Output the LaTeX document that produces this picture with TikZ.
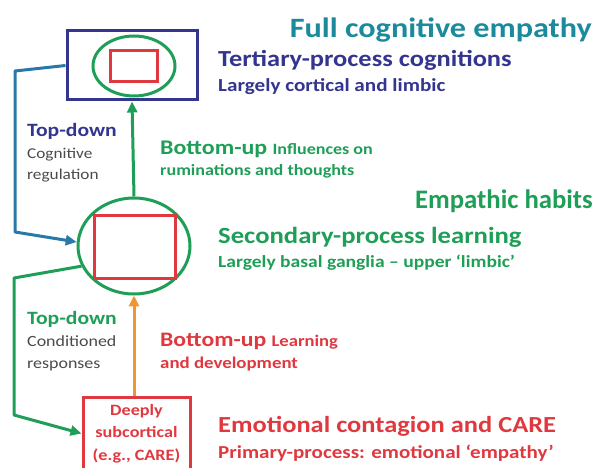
\documentclass[tikz,border=0pt]{standalone}
\usepackage{fontspec}
\setmainfont{Carlito}[FakeStretch=1.15]
\newfontfamily\plaincarlito{Carlito}
\usetikzlibrary{shapes.geometric,arrows.meta}
\definecolor{cnavy}{HTML}{33358F}
\definecolor{cteal}{HTML}{1B8A9C}
\definecolor{cgreen}{HTML}{1E9E56}
\definecolor{cred}{HTML}{E0383F}
\definecolor{corange}{HTML}{F0952F}
\definecolor{cblue}{HTML}{2878A8}
\definecolor{cgray}{HTML}{4A4A4A}
\newcommand{\fsz}[1]{\fontsize{#1}{#1}\selectfont}
\tikzset{
  lbl/.style={inner sep=0pt, anchor=base west, font=\bfseries},
  shp/.style={line width=3pt, inner sep=0pt},
  conn/.style={line width=3pt, line join=round, -{Triangle[length=11pt,width=10pt]}},
}
\begin{document}
\begin{tikzpicture}[x=1pt,y=-1pt]
\useasboundingbox (0,0) rectangle (598,468);
\clip (0,0) rectangle (598,468);
% shapes
\node[shp, draw=cnavy, minimum width=130pt, minimum height=69pt] (topbox) at (132,65.5) {};
\node[shp, draw=cgreen, ellipse, minimum width=82pt, minimum height=60pt] (topell) at (134,66) {};
\node[shp, draw=cred, minimum width=47pt, minimum height=31pt] (topred) at (133.5,66.5) {};
\node[shp, draw=cgreen, ellipse, minimum width=112pt, minimum height=96pt] (midell) at (134,246) {};
\node[shp, draw=cred, minimum width=81pt, minimum height=63pt] (midred) at (134.5,247.5) {};
\node[shp, draw=cred, minimum width=107pt, minimum height=73pt, align=center, text=cred, font=\bfseries\fontsize{15.8}{22.5}\selectfont] (botbox) at (136.5,433.5) {Deeply\\subcortical\\(e.g., CARE)};
% connectors
\draw[conn, cgreen] (midell.north) -- (topbox.south);
\draw[conn, corange] (midell.south |- botbox.north) -- (midell.south);
\draw[conn, cblue] (topbox.west) -- (15,71) -- (15,232) -- (midell.176);
\draw[conn, cgreen] (midell.201) -- (14,278) -- (14,415) -- (botbox.west);
% texts
\node[lbl, anchor=base east, text=cteal, font=\bfseries\fsz{28}] (t1) at (592,38) {Full cognitive empathy};
\node[lbl, text=cnavy, font=\bfseries\fsz{23}] (t2) at (218,67) {Tertiary-process cognitions};
\node[lbl, text=cnavy, font=\bfseries\fsz{18.4}] (t3) at (218,92) {Largely cortical and limbic};
\node[lbl, text=cnavy, font=\bfseries\fsz{18.8}] (t4) at (27,137) {Top-down};
\node[lbl, text=cgray, font=\fsz{15}] (t5) at (27,159) {Cognitive};
\node[lbl, text=cgray, font=\fsz{15}] (t6) at (27,180) {regulation};
\node[lbl, text=cgreen, font=\bfseries\fsz{20.8}] (t7) at (160,155) {Bottom-up {\fsz{15.7}Influences on}};
\node[lbl, text=cgreen, font=\bfseries\fsz{15.7}] (t8) at (160,176) {ruminations and thoughts};
\node[lbl, anchor=base east, text=cgreen, font=\plaincarlito\bfseries\fsz{26.7}] (t9) at (593,209) {Empathic habits};
\node[lbl, text=cgreen, font=\bfseries\fsz{23.2}] (t10) at (218,244) {Secondary-process learning};
\node[lbl, text=cgreen, font=\bfseries\fsz{17}] (t11) at (218,268) {Largely basal ganglia – upper ‘limbic’};
\node[lbl, text=cgreen, font=\bfseries\fsz{18.8}] (t12) at (27,324) {Top-down};
\node[lbl, text=cgray, font=\fsz{15.6}] (t13) at (27,346) {Conditioned};
\node[lbl, text=cgray, font=\fsz{15.6}] (t14) at (27,368) {responses};
\node[lbl, text=cred, font=\bfseries\fsz{20.6}] (t15) at (160,346) {Bottom-up {\fsz{16.2}Learning}};
\node[lbl, text=cred, font=\bfseries\fsz{16.4}] (t16) at (160,368) {and development};
\node[lbl, text=cred, font=\bfseries\fsz{23}] (t17) at (218,432) {Emotional contagion and CARE};
\node[lbl, text=cred, font=\bfseries\fsz{18.3}] (t18) at (218,458) {Primary-process: emotional ‘empathy’};
\end{tikzpicture}
\end{document}
